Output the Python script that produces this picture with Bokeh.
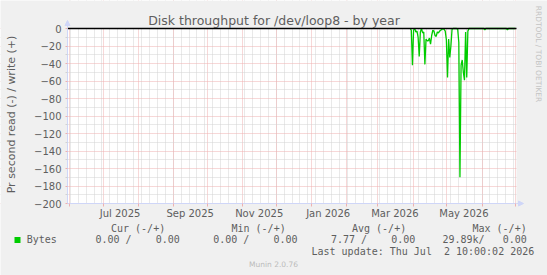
import datetime as dt
from math import pi

from bokeh.plotting import figure
from bokeh.models import (Range1d, FixedTicker, Label, BoxAnnotation, Arrow,
                          NormalHead, ColumnDataSource, DatetimeTickFormatter)
from bokeh.embed import file_html
from bokeh.resources import INLINE

# ---------------- data ----------------
title_text = "Disk throughput for /dev/loop8 - by year"
y_axis_label = "Pr second read (-) / write (+)"
side_text = "RRDTOOL / TOBI OETIKER"
footer_text = "Munin 2.0.76"

y_major_ticks = [0, -20, -40, -60, -80, -100, -120, -140, -160, -180, -200]
y_minor_ticks = [-10, -30, -50, -70, -90, -110, -130, -150, -170, -190]
zero_rule = 0

x_range_start = dt.datetime(2025, 5, 30, 12)
x_range_end = dt.datetime(2026, 7, 1, 12)
x_label_months = [(2025, 7), (2025, 9), (2025, 11), (2026, 1), (2026, 3), (2026, 5)]

series_start = dt.datetime(2026, 3, 29, 12)
read_values = [
    0, -2, -42, -2, 0, -4, -3, -10, -32, -4,
    0, -5, -4, -41, -12, -14, -14, -11, -18, -8,
    -2, -3, -8, -9, -4, -5, -3, -2, -1, 0,
    -1, -3, -13, -56, -12, -33, -20, -1, 0, 0,
    0, 0, -1, -16, -170, -42, -36, -50, -59, -4,
    -56, -3, 0, 0, 0, 0, 0, 0, 0, 0,
    0, 0, 0, 0, 0, 0, -1.5, 0, 0, 0,
    0, 0, 0, 0, 0, 0, 0, 0, 0, 0,
    0, 0, 0, 0, 0, 0, -1.5, 0, 0, 0,
    0, 0, 0, 0,
]

legend_name = "Bytes"
legend_headers = ["Cur (-/+)", "Min (-/+)", "Avg (-/+)", "Max (-/+)"]
legend_values = ["0.00 /    0.00", "0.00 /    0.00", "7.77 /    0.00", "29.89k/   0.00"]
last_update = "Last update: Thu Jul  2 10:00:02 2026"

# ---------------- layout constants (canvas pixels) ----------------
W, H = 547, 275
PL, PR, PT, PB = 67, 516, 28, 203   # plot area edges
Y_TOP, Y_BOT = 0, -200

BG = "#F0F0F0"
MGRID = "#EEB0B0"
GRID = "#D2D2D2"
AXIS = "#CFD6F8"
TXT = "#5e5e5e"
GREEN = "#00CC00"


def ms(d):
    return (d - dt.datetime(1970, 1, 1)).total_seconds() * 1000.0


X0, X1 = ms(x_range_start), ms(x_range_end)
ms_per_px = (X1 - X0) / (PR - PL)
units_per_px = (Y_TOP - Y_BOT) / (PB - PT)


def dx(cx):  # canvas x -> data x
    return X0 + (cx - PL) * ms_per_px


def dy(cy):  # canvas y -> data y
    return Y_TOP - (cy - PT) * units_per_px


def keep_spaces(s):
    return s.replace(" ", "\u00a0")


dates = [series_start + dt.timedelta(days=i) for i in range(len(read_values))]
src = ColumnDataSource(data=dict(x=dates, y=read_values))

month_starts = []
yy, mm = 2025, 6
while dt.datetime(yy, mm, 1) <= x_range_end:
    month_starts.append(ms(dt.datetime(yy, mm, 1)))
    mm += 1
    if mm > 12:
        mm, yy = 1, yy + 1
mondays = []
d = dt.datetime(2025, 6, 2)
while d <= x_range_end:
    mondays.append(ms(d))
    d += dt.timedelta(days=7)
label_ticks = [ms(dt.datetime(a, b, 16)) for a, b in x_label_months]

# the frame covers the whole canvas; axes are pinned with fixed_location
p = figure(width=W, height=H, x_axis_type="datetime", output_backend="svg",
           toolbar_location=None, tools="", title=None,
           x_range=Range1d(dx(0), dx(W)), y_range=Range1d(dy(H), dy(0)))
p.min_border = 0
p.min_border_left = p.min_border_right = p.min_border_top = p.min_border_bottom = 0
p.background_fill_color = "white"
p.border_fill_color = BG
p.outline_line_color = None

# grids
p.xgrid.ticker = FixedTicker(ticks=month_starts, minor_ticks=mondays)
p.ygrid.ticker = FixedTicker(ticks=y_major_ticks, minor_ticks=y_minor_ticks)
for g in (p.xgrid, p.ygrid):
    g.grid_line_color = MGRID
    g.grid_line_dash = "1 1"
    g.grid_line_width = 1
    g.minor_grid_line_color = GRID
    g.minor_grid_line_dash = "1 1"
    g.minor_grid_line_width = 1

# grey surround (covers grid lines outside the plot area)
for kw in (dict(bottom=Y_TOP), dict(top=Y_BOT), dict(right=X0), dict(left=X1)):
    p.add_layout(BoxAnnotation(fill_color=BG, fill_alpha=1.0, line_color=None,
                               level="underlay", **kw))

# axes
xa = p.xaxis[0]
xa.fixed_location = Y_BOT
xa.bounds = (X0, X1)
xa.ticker = FixedTicker(ticks=label_ticks, minor_ticks=month_starts)
fmt = "%b %Y"
xa.formatter = DatetimeTickFormatter(years=fmt, months=fmt, days=fmt, hours=fmt,
                                     hourmin=fmt, minutes=fmt, minsec=fmt,
                                     seconds=fmt, milliseconds=fmt, microseconds=fmt)
xa.major_tick_out = 0
xa.major_tick_in = 0
xa.minor_tick_out = 3
xa.minor_tick_in = 0
xa.minor_tick_line_color = MGRID
xa.major_label_standoff = 1
ya = p.yaxis[0]
ya.fixed_location = X0
ya.bounds = (Y_BOT, Y_TOP)
ya.ticker = FixedTicker(ticks=y_major_ticks, minor_ticks=y_minor_ticks)
ya.major_tick_out = 2
ya.major_tick_in = 0
ya.major_tick_line_color = MGRID
ya.minor_tick_out = 2
ya.minor_tick_in = 0
ya.minor_tick_line_color = GRID
ya.major_label_standoff = 4
for a in (xa, ya):
    a.axis_line_color = AXIS
    a.major_label_text_font = "DejaVu Sans"
    a.major_label_text_font_size = "10px"
    a.major_label_text_color = TXT

# data line
p.line("x", "y", source=src, line_color=GREEN, line_width=1.3)

# zero rule across the plot area
p.segment(x0=[X0], y0=[zero_rule], x1=[X1], y1=[zero_rule],
          line_color="black", line_width=1.4)

# axis arrows
p.add_layout(Arrow(x_start=X0, y_start=Y_TOP, x_end=X0, y_end=dy(20),
                   line_color=AXIS,
                   end=NormalHead(size=5, fill_color=AXIS, line_color=AXIS)))
p.add_layout(Arrow(x_start=X1, y_start=Y_BOT, x_end=dx(523), y_end=Y_BOT,
                   line_color=AXIS,
                   end=NormalHead(size=5, fill_color=AXIS, line_color=AXIS)))


def label(text, cx, cy, size, font="DejaVu Sans", color=TXT, align="left",
          angle=0.0):
    p.add_layout(Label(x=dx(cx), y=dy(cy), text=text, text_font=font,
                       text_font_size=size, text_color=color, text_align=align,
                       text_baseline="middle", angle=angle))


label(title_text, 273.5, 19.5, "12.5px", align="center")
label(y_axis_label, 11, 114, "11px", align="center", angle=pi / 2)
label(side_text, 537.5, 53.5, "7.5px", color="#c4c4c4", align="center", angle=-pi / 2)
label(footer_text, 273, 264, "7.5px", color="#bbbbbb", align="center")

MONO = "DejaVu Sans Mono"
header_x = [110.5, 231, 351.5, 472]
value_x = [95, 212.7, 330.5, 442]
for hx, ht in zip(header_x, legend_headers):
    label(keep_spaces(ht), hx, 227.7, "10px", font=MONO)
label(legend_name, 26.2, 239.3, "10px", font=MONO)
for vx, vt in zip(value_x, legend_values):
    label(keep_spaces(vt), vx, 239.3, "10px", font=MONO)
label(keep_spaces(last_update), 311, 251, "10px", font=MONO)

# legend swatch
p.add_layout(BoxAnnotation(left=dx(14), right=dx(20), top=dy(236.5), bottom=dy(242.5),
                           fill_color=GREEN, fill_alpha=1.0, line_color=None))

open("out.html", "w").write(file_html(p, INLINE))
